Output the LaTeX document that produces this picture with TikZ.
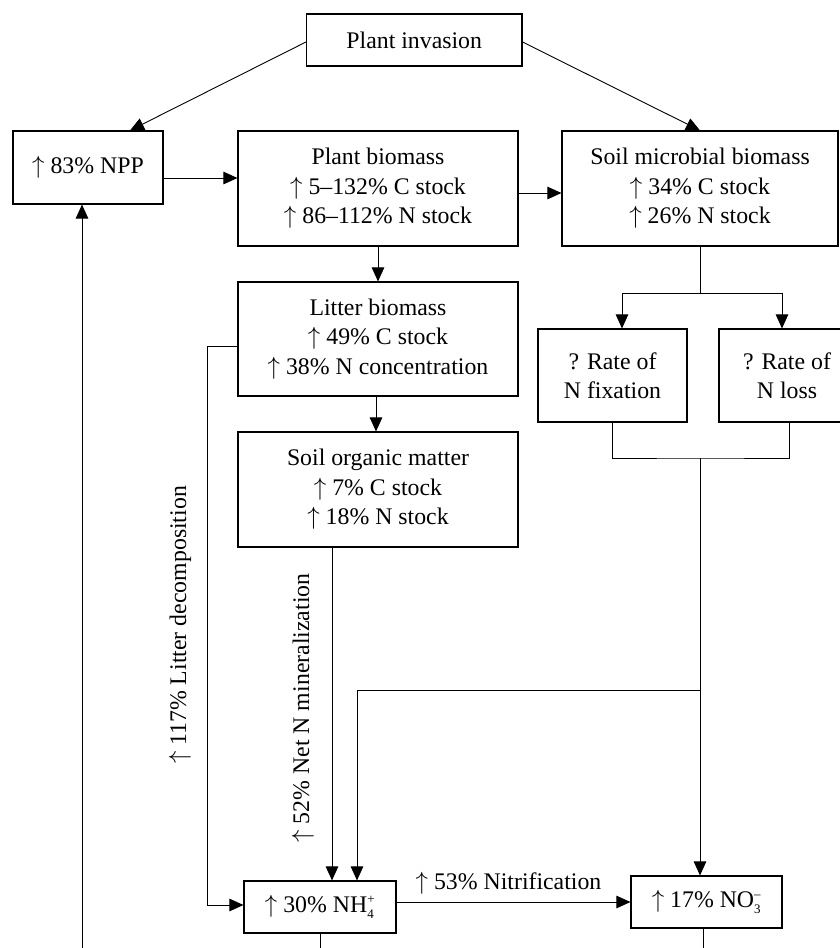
\documentclass[tikz,border=0pt]{standalone}
\usepackage{fontspec}
\setmainfont{Liberation Serif}
\usetikzlibrary{arrows.meta}
\newcommand\fsz{\fontsize{23.8}{29.5}\selectfont}
\newcommand\upa{$\uparrow$\hspace{0.25em}}
\newcommand\smallchr[1]{\mbox{\fontsize{13}{13}\selectfont #1}}
\tikzset{
  box/.style={draw, line width=1.1pt, inner sep=0pt, align=center, font=\fsz},
  conn/.style={line width=0.9pt},
  arr/.style={conn, -{Triangle[length=14pt,width=12.5pt]}},
  lbl/.style={inner sep=0pt, font=\fsz},
}
\begin{document}
\begin{tikzpicture}[x=1pt,y=-1pt]
\path[use as bounding box, clip] (0,0) rectangle (840,948);
% boxes
\node[box, minimum width=215.5pt, minimum height=52pt] (inv) at (414.25,40) {Plant invasion};
\node[box, minimum width=150pt, minimum height=73pt] (npp) at (88,167.5) {\upa 83\% NPP};
\node[box, minimum width=280pt, minimum height=115pt] (pb) at (378,188.5) {Plant biomass\\\upa 5–132\% C stock\\\upa 86–112\% N stock};
\node[box, minimum width=276pt, minimum height=115pt] (sm) at (700,188.5) {Soil microbial biomass\\\upa 34\% C stock\\\upa 26\% N stock};
\node[box, minimum width=280pt, minimum height=114pt] (lit) at (378,339) {Litter biomass\\\upa 49\% C stock\\\upa 38\% N concentration};
\node[box, minimum width=280pt, minimum height=115pt] (som) at (378,489.5) {Soil organic matter\\\upa 7\% C stock\\\upa 18\% N stock};
\node[box, minimum width=149pt, minimum height=93pt] (fix) at (612.5,375.5) {? Rate of\\N fixation};
\node[box, minimum width=136pt, minimum height=93pt] (loss) at (787,375.5) {? Rate of\\N loss};
\node[box, minimum width=152pt, minimum height=52pt] (nh4) at (320,907) {\upa 30\% NH$^{\smallchr{+}}_{\smallchr{4}}$};
\node[box, minimum width=151pt, minimum height=52pt] (no3) at (706.5,902) {\upa 17\% NO$^{\smallchr{–}}_{\smallchr{3}}$};
% labels
\node[lbl, rotate=90] (ldlabel) at (180,625) {\upa 117\% Litter decomposition};
\node[lbl, rotate=90] (mnlabel) at (303,708) {\upa 52\% Net N mineralization};
% helper coordinates
\coordinate (split) at (700,293);
\coordinate (join) at (700,458);
\coordinate (branch) at (700,690);
\coordinate (ldturn) at (207,905);
\coordinate (loopstart) at (82,960);
\coordinate (nh4end) at (320,960);
\coordinate (no3end) at (703,960);
% connectors
\draw[arr] ([yshift=-2pt]inv.west) -- ([xshift=42pt]npp.north);
\draw[arr] ([yshift=-2pt]inv.east) -- (sm.north);
\draw[arr] ([yshift=-10.5pt]npp.east) -- ([yshift=-10.5pt]npp.east -| pb.west);
\draw[arr] ([yshift=-4.5pt]pb.east) -- ([yshift=-4.5pt]pb.east -| sm.west);
\draw[arr] (pb.south) -- (lit.north);
\draw[arr] ([xshift=-2pt]lit.south) -- ([xshift=-2pt]som.north);
\draw[conn] (sm.south) -- (split);
\draw[arr] (split) -| ([xshift=9.5pt]fix.north);
\draw[arr] (split) -| ([xshift=-5pt]loss.north);
\draw[conn] (fix.south) |- (join) -| ([xshift=2pt]loss.south);
\draw[arr] (join) -- (join |- no3.north);
\draw[arr] (branch) -| ([xshift=37pt]nh4.north);
\draw[arr] ([xshift=-46pt]som.south) -- ([xshift=12pt]nh4.north);
\draw[arr] ([yshift=-7pt]lit.west) -| (ldturn) -- (ldturn -| nh4.west);
\draw[arr] ([yshift=5pt]nh4.east) -- node[lbl, above=7pt, xshift=-5pt] (nitlabel) {\upa 53\% Nitrification} ([yshift=5pt]nh4.east -| no3.west);
\draw[conn] (nh4.south) -- (nh4end);
\draw[conn] ([xshift=-3.5pt]no3.south) -- (no3end);
\draw[arr] (loopstart) -- ([xshift=-6pt]npp.south);
\end{tikzpicture}
\end{document}
